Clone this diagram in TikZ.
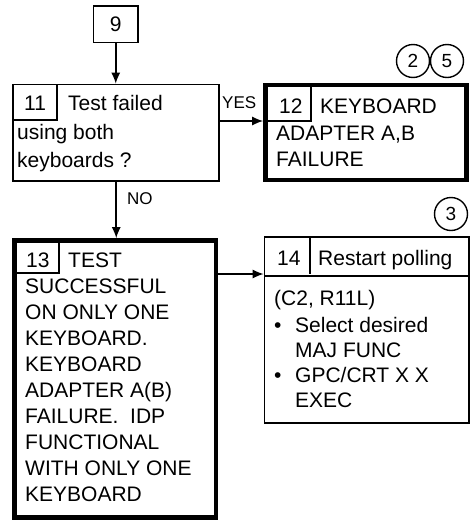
\documentclass[tikz,border=0pt]{standalone}
\usepackage{fontspec}
\setmainfont{Liberation Sans}
\usetikzlibrary{arrows.meta}
\begin{document}
\begin{tikzpicture}[x=1pt,y=-1pt,
  thinbox/.style={draw,line width=1.6pt},
  thickbox/.style={draw,line width=4.6pt},
  txt/.style={font=\fontsize{21}{26}\selectfont,inner sep=0pt,anchor=base west,align=left},
  lbl/.style={font=\fontsize{17}{20}\selectfont,inner sep=0pt,anchor=base west},
  ref/.style={draw,circle,line width=1.4pt,minimum size=33pt,inner sep=0pt,font=\fontsize{19}{22}\selectfont},
  arr/.style={line width=1.6pt,-{Latex[length=11pt,width=9pt]}}]
\useasboundingbox (0,0) rectangle (470,520);
% box 9
\node[thinbox,minimum width=44.5pt,minimum height=36.5pt,inner sep=0pt,font=\fontsize{21}{26}\selectfont] (b9) at (115.75,24.25) {9};
% box 11
\node[thinbox,minimum width=206pt,minimum height=96.5pt,inner sep=0pt] (b11) at (116.25,132.75) {};
\draw[line width=1.6pt] (56.7,84.5) -- (56.7,120) -- (13.2,120);
\node[txt] (n11) at (24,110) {11};
\node[txt] (t11a) at (68,110) {Test failed};
\node[txt,font=\fontsize{21}{28}\selectfont] (t11b) at (17,167) {using both\\keyboards ?};
% box 12
\node[thickbox,minimum width=201pt,minimum height=95pt,inner sep=0pt] (b12) at (366,132.5) {};
\draw[line width=1.6pt] (311,85) -- (311,121) -- (265.5,121);
\node[txt] (n12) at (279,113) {12};
\node[txt] (t12a) at (320,113) {KEYBOARD};
\node[txt] (t12b) at (276,166) {ADAPTER A,B\\FAILURE};
\node[ref] (c2) at (413,61) {2};
\node[ref] (c5) at (447,61) {5};
% box 13
\node[thickbox,minimum width=201.5pt,minimum height=277pt,inner sep=0pt] (b13) at (115.25,379) {};
\draw[line width=1.6pt] (59,240.5) -- (59,273) -- (14.5,273);
\node[txt] (n13) at (26,267) {13};
\node[txt] (t13a) at (68,267) {TEST};
\node[txt] (t13b) at (25,501) {SUCCESSFUL\\ON ONLY ONE\\KEYBOARD.\\KEYBOARD\\ADAPTER A(B)\\FAILURE.\ \ IDP\\FUNCTIONAL\\WITH ONLY ONE\\KEYBOARD};
% box 14
\node[thinbox,minimum width=204.5pt,minimum height=186pt,inner sep=0pt] (b14) at (366.75,330) {};
\draw[line width=1.6pt] (264.5,276) -- (469,276);
\draw[line width=1.6pt] (310,237) -- (310,273.5);
\node[txt] (n14) at (277,265) {14};
\node[txt] (t14a) at (318,265) {Restart polling};
\node[txt] (t14b) at (274,305) {(C2, R11L)};
\node[txt] (bu1) at (274,332) {\textbullet};
\node[txt,font=\fontsize{21}{25}\selectfont] (t14c) at (295,357) {Select desired\\MAJ FUNC};
\node[txt] (bu2) at (274,382) {\textbullet};
\node[txt,font=\fontsize{21}{25}\selectfont] (t14d) at (295,407) {GPC/CRT X X\\EXEC};
\node[ref] (c3) at (451,214) {3};
% connectors
\draw[arr] (b9.south) -- (b9.south |- b11.north);
\draw[arr] (b11.south) -- (b11.south |- b13.north);
\node[lbl] (no) at (127,204) {NO};
\coordinate (y12) at (0,121);
\draw[arr] (b11.east |- y12) -- (b12.west |- y12);
\node[lbl] (yes) at (222,108) {YES};
\coordinate (y13) at (0,274);
\draw[arr] (b13.east |- y13) -- (b14.west |- y13);
\end{tikzpicture}
\end{document}
